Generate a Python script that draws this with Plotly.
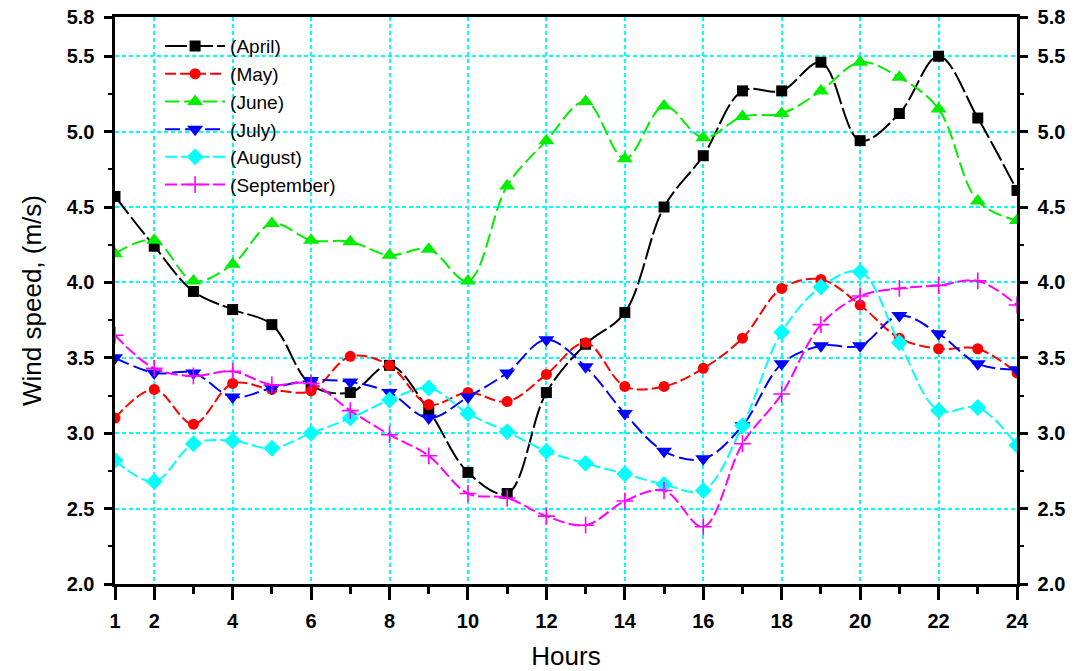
import plotly.graph_objects as go

hours = list(range(1, 25))

april = [4.57, 4.24, 3.94, 3.82, 3.72, 3.32, 3.27, 3.45, 3.15, 2.74, 2.60, 3.27,
         3.59, 3.80, 4.50, 4.84, 5.27, 5.27, 5.46, 4.94, 5.12, 5.50, 5.09, 4.61]
may = [3.10, 3.29, 3.06, 3.33, 3.29, 3.28, 3.51, 3.45, 3.19, 3.27, 3.21, 3.39,
       3.60, 3.31, 3.31, 3.43, 3.63, 3.96, 4.02, 3.85, 3.63, 3.56, 3.56, 3.40]
june = [4.19, 4.28, 4.01, 4.12, 4.39, 4.28, 4.27, 4.18, 4.22, 4.01, 4.64, 4.94,
        5.20, 4.82, 5.17, 4.96, 5.10, 5.12, 5.27, 5.46, 5.36, 5.15, 4.54, 4.41]
july = [3.50, 3.40, 3.40, 3.24, 3.30, 3.35, 3.34, 3.27, 3.10, 3.24, 3.40, 3.62,
        3.44, 3.13, 2.88, 2.83, 3.05, 3.46, 3.58, 3.58, 3.78, 3.66, 3.46, 3.42]
august = [2.82, 2.68, 2.93, 2.95, 2.90, 3.00, 3.10, 3.22, 3.30, 3.13, 3.01, 2.88,
          2.80, 2.73, 2.66, 2.62, 3.05, 3.67, 3.97, 4.07, 3.60, 3.15, 3.17, 2.92]
september = [3.65, 3.43, 3.38, 3.41, 3.32, 3.33, 3.15, 2.99, 2.85, 2.60, 2.57, 2.45,
             2.39, 2.55, 2.62, 2.38, 2.93, 3.26, 3.72, 3.91, 3.96, 3.98, 4.01, 3.85]

x_tickvals = [1] + list(range(2, 25, 2))
x_minor = list(range(3, 24, 2))
y_top = 5.76
y_tickvals = [2.0, 2.5, 3.0, 3.5, 4.0, 4.5, 5.0, 5.5, y_top]
y_ticktext = ["2.0", "2.5", "3.0", "3.5", "4.0", "4.5", "5.0", "5.5", "5.8"]
y_minor = [2.25, 2.75, 3.25, 3.75, 4.25, 4.75, 5.25]

series = [
    ("(April)", april, "#000000", "square", 11, "22px,4px"),
    ("(May)", may, "#FF0000", "circle", 11, "11px,4px"),
    ("(June)", june, "#00EE00", "triangle-up", 14, "14px,5px"),
    ("(July)", july, "#0000FF", "triangle-down", 14, "15px,5px"),
    ("(August)", august, "#00FFFF", "diamond", 13, "12px,4px"),
    ("(September)", september, "#FF00FF", "cross-thin", 12, "12px,4px"),
]

fig = go.Figure()
for name, vals, color, symbol, size, dash in series:
    marker = dict(symbol=symbol, size=size, color=color)
    if symbol == "cross-thin":
        marker["line"] = dict(color=color, width=1.6)
    else:
        marker["line"] = dict(width=0)
    fig.add_trace(go.Scatter(
        x=hours, y=vals, name=name, mode="lines+markers",
        line=dict(color=color, width=2, shape="spline", smoothing=1.0, dash=dash),
        marker=marker,
    ))

# empty trace so the mirrored right-hand axis gets its tick labels
fig.add_trace(go.Scatter(x=[], y=[], yaxis="y2", showlegend=False, hoverinfo="skip"))

tick_font = dict(family="Liberation Sans, Arial", size=20, color="black", weight="bold")
grid_color = "#00FFFF"
pad = "\u00a0"  # keeps a little extra room between the y tick labels and the ticks

fig.update_layout(
    width=1078, height=671,
    margin=dict(l=115, r=61, t=17, b=87, autoexpand=False),
    paper_bgcolor="white", plot_bgcolor="white",
    showlegend=True,
    legend=dict(
        x=0.05, y=0.982, xanchor="left", yanchor="top",
        bgcolor="rgba(0,0,0,0)",
        font=dict(family="Liberation Sans, Arial", size=19, color="black"),
        itemwidth=60,
    ),
    xaxis=dict(
        range=[1, 24], tickvals=x_tickvals, ticktext=[str(v) for v in x_tickvals],
        ticks="outside", ticklen=13, tickwidth=2.5, tickcolor="black",
        minor=dict(tickvals=x_minor, ticks="outside", ticklen=7, tickwidth=2.5,
                   tickcolor="black", showgrid=False),
        showline=True, linewidth=3, linecolor="black", mirror=True,
        showgrid=True, gridcolor=grid_color, gridwidth=1.5, griddash="4px,3px",
        zeroline=False, tickfont=tick_font, ticklabelstandoff=4, automargin=False,
        title=dict(text="Hours", font=dict(family="Liberation Sans, Arial", size=26, color="black"),
                   standoff=21),
    ),
    yaxis=dict(
        range=[2, y_top], tickvals=y_tickvals, ticktext=[t + pad for t in y_ticktext],
        ticks="outside", ticklen=8, tickwidth=2.5, tickcolor="black",
        minor=dict(tickvals=y_minor, ticks="outside", ticklen=4, tickwidth=2,
                   tickcolor="black", showgrid=False),
        showline=True, linewidth=3, linecolor="black",
        showgrid=True, gridcolor=grid_color, gridwidth=1.5, griddash="4px,3px",
        zeroline=False, tickfont=tick_font, automargin=False,
        title=dict(text="Wind speed, (m/s)", font=dict(family="Liberation Sans, Arial", size=26, color="black"),
                   standoff=18),
    ),
    yaxis2=dict(
        range=[2, y_top], tickvals=y_tickvals, ticktext=[pad + t for t in y_ticktext],
        overlaying="y", side="right", anchor="x",
        ticks="outside", ticklen=8, tickwidth=2.5, tickcolor="black",
        minor=dict(tickvals=y_minor, ticks="outside", ticklen=4, tickwidth=2,
                   tickcolor="black", showgrid=False),
        showline=True, linewidth=3, linecolor="black",
        showgrid=False, zeroline=False, tickfont=tick_font, automargin=False,
    ),
)

fig.write_html("out.html")
